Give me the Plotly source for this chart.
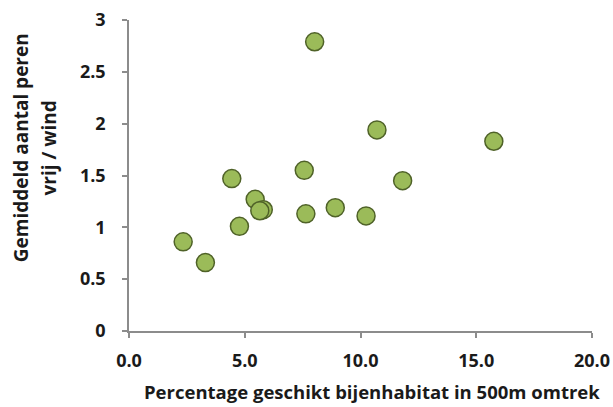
import plotly.graph_objects as go

habitat_pct = [2.34, 3.30, 4.44, 4.77, 5.45, 5.80, 5.65, 7.57, 7.64, 8.02, 8.91, 10.24, 10.71, 11.82, 15.76]
pears_per_tree = [0.86, 0.66, 1.47, 1.01, 1.27, 1.17, 1.16, 1.55, 1.13, 2.79, 1.19, 1.11, 1.94, 1.45, 1.83]

x_ticks = [0, 5, 10, 15, 20]
x_ticklabels = ["0.0", "5.0", "10.0", "15.0", "20.0"]
y_ticks = [0, 0.5, 1, 1.5, 2, 2.5, 3]
y_ticklabels = ["0", "0.5", "1", "1.5", "2", "2.5", "3"]

x_title = "Percentage geschikt bijenhabitat in 500m omtrek"
y_title_lines = ["Gemiddeld aantal peren", "vrij / wind"]

font_family = "Open Sans, Liberation Sans, sans-serif"
text_color = "#1a1a1a"

fig = go.Figure(
    go.Scatter(
        x=habitat_pct,
        y=pears_per_tree,
        mode="markers",
        marker=dict(size=18, color="#9BBB59", line=dict(color="#4F6228", width=1.5)),
        cliponaxis=False,
    )
)

axis_common = dict(
    showgrid=False,
    zeroline=False,
    showline=True,
    linecolor="#8C8C8C",
    linewidth=1.5,
    ticks="outside",
    ticklen=5,
    tickwidth=1.5,
    tickcolor="#8C8C8C",
    automargin=False,
    ticklabeloverflow="allow",
    tickfont=dict(family=font_family, size=18, color=text_color),
)

fig.update_layout(
    width=613,
    height=407,
    margin=dict(l=129, r=21, t=20, b=76),
    paper_bgcolor="white",
    plot_bgcolor="white",
    showlegend=False,
    font=dict(family=font_family, color=text_color),
    xaxis=dict(
        range=[0, 20],
        tickvals=x_ticks,
        ticktext=[f"<b>{t}</b>" for t in x_ticklabels],
        ticklabelstandoff=8,
        **axis_common,
    ),
    yaxis=dict(
        range=[0, 3],
        tickvals=y_ticks,
        ticktext=[f"<b>{t}</b>" for t in y_ticklabels],
        ticklabelstandoff=13,
        **axis_common,
    ),
)

fig.add_annotation(
    text=f"<b>{x_title}</b>", xref="paper", yref="paper",
    x=0.525, y=-0.196, xanchor="center", yanchor="middle",
    showarrow=False, font=dict(family=font_family, size=18.5, color=text_color),
)
for line, xp in zip(y_title_lines, [-0.233, -0.172]):
    fig.add_annotation(
        text=f"<b>{line}</b>", xref="paper", yref="paper",
        x=xp, y=0.588, xanchor="center", yanchor="middle", textangle=-90,
        showarrow=False, font=dict(family=font_family, size=19, color=text_color),
    )

# remove the default 8px page margin so the figure fills the window exactly
fig.write_html(
    "out.html",
    config={"displayModeBar": False},
    post_script="document.body.style.margin='0';",
)
